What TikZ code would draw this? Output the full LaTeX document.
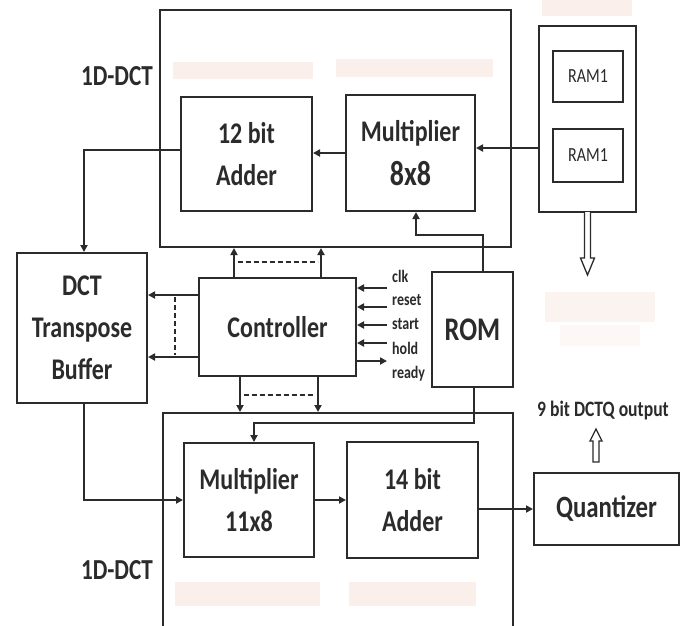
\documentclass[tikz,border=0pt]{standalone}
\usepackage{fontspec}
\setmainfont{Carlito}[FakeStretch=0.8]
\usetikzlibrary{arrows.meta,calc}
\definecolor{lc}{HTML}{2B2B2B}
\definecolor{smudge}{HTML}{F3D2C4}
\begin{document}
\begin{tikzpicture}[x=1pt,y=-1pt,
  box/.style={draw=lc, line width=2pt, fill=white, align=center, inner sep=0pt,
    text=lc, font=\bfseries\fontsize{30}{42}\selectfont},
  ram/.style={box, font=\fontsize{20}{24}\selectfont},
  lab/.style={text=lc, font=\bfseries\fontsize{29}{33}\selectfont},
  sig/.style={text=lc, anchor=west, inner sep=0pt, font=\bfseries\fontsize{17.5}{20}\selectfont},
  conn/.style={draw=lc, line width=1.8pt},
  arr/.style={conn, -{Triangle[length=7pt,width=7pt]}},
  dsh/.style={draw=lc, line width=1.6pt, dash pattern=on 5pt off 3pt},
  hollow/.style={draw=lc, line width=1.3pt, fill=white, line join=miter}]
\useasboundingbox (0,0) rectangle (688,625);
\fill[white] (0,0) rectangle (688,625);

% outer boxes
\node[box, minimum width=351pt, minimum height=237pt] (top) at (335.5,128.5) {};
\node[box, minimum width=350pt, minimum height=230pt] (bot) at (338,528) {};
\node[box, minimum width=97pt, minimum height=186pt] (ram) at (587.5,119) {};

% faint smudges
\fill[smudge, opacity=0.35] (173,62) rectangle (313,79);
\fill[smudge, opacity=0.35] (336,59) rectangle (493,77);
\fill[smudge, opacity=0.35] (542,0) rectangle (632,16);
\fill[smudge, opacity=0.25] (545,292) rectangle (655,322);
\fill[smudge, opacity=0.15] (560,325) rectangle (640,346);
\fill[smudge, opacity=0.35] (175,582) rectangle (320,606);
\fill[smudge, opacity=0.35] (349,582) rectangle (476,606);

% inner blocks
\node[box, minimum width=131pt, minimum height=114pt] (add12) at (246.5,154) {12 bit\\Adder};
\node[box, minimum width=129pt, minimum height=116pt] (mul8) at (410.5,153) {Multiplier\\[2pt]\fontsize{35}{40}\selectfont 8x8};
\node[ram, minimum width=70pt, minimum height=51pt] (ram1) at (588,76.5) {RAM1};
\node[ram, minimum width=70pt, minimum height=53pt] (ram2) at (588,155.5) {RAM1};
\node[box, minimum width=130pt, minimum height=150pt] (buf) at (82,328) {DCT\\Transpose\\Buffer};
\node[box, minimum width=157pt, minimum height=98pt] (ctrl) at (277.5,327) {Controller};
\node[box, minimum width=81pt, minimum height=115pt] (rom) at (472.5,329.5) {\fontsize{33}{36}\selectfont ROM};
\node[box, minimum width=130pt, minimum height=114pt] (mul11) at (249,500) {Multiplier\\11x8};
\node[box, minimum width=131pt, minimum height=116pt] (add14) at (412.5,500) {14 bit\\Adder};
\node[box, minimum width=145pt, minimum height=72pt] (quant) at (606.5,509) {\fontsize{31}{36}\selectfont Quantizer};

% labels
\node[lab] (l1) at (117,76) {1D-DCT};
\node[lab] (l2) at (117,570) {1D-DCT};
\node[text=lc, font=\bfseries\fontsize{22}{26}\selectfont] (outl) at (603,411) {9 bit DCTQ output};

% top data path
\draw[arr] (mul8.west) -- (mul8.west -| add12.east);
\draw[arr] (ram.west |- 0,148) -- (mul8.east |- 0,148);
\draw[arr] (add12.west |- 0,150) -| ([xshift=2pt]buf.north);
\draw[arr] ([xshift=10.5pt]rom.north) -- ++(0,-36) -| ([xshift=5.5pt]mul8.south);

% controller to top block
\draw[arr] ([xshift=-43.5pt]ctrl.north) -- ([xshift=-43.5pt]ctrl.north |- top.south);
\draw[arr] ([xshift=43.5pt]ctrl.north) -- ([xshift=43.5pt]ctrl.north |- top.south);
\draw[dsh] ([xshift=-40pt,yshift=15pt]ctrl.north) -- ([xshift=40pt,yshift=15pt]ctrl.north);

% controller to buffer
\draw[arr] ([yshift=32pt]ctrl.west) -- ([yshift=32pt]ctrl.west -| buf.east);
\draw[arr] ([yshift=-30pt]ctrl.west) -- ([yshift=-30pt]ctrl.west -| buf.east);
\draw[dsh] ([xshift=-23pt,yshift=30pt]ctrl.west) -- ([xshift=-23pt,yshift=-28pt]ctrl.west);

% controller to bottom block
\draw[arr] ([xshift=-37.5pt]ctrl.south) -- ([xshift=-37.5pt]ctrl.south |- bot.north);
\draw[arr] ([xshift=40.5pt]ctrl.south) -- ([xshift=40.5pt]ctrl.south |- bot.north);
\draw[dsh] ([xshift=-34pt,yshift=-18pt]ctrl.south) -- ([xshift=37pt,yshift=-18pt]ctrl.south);

% control signals
\coordinate (sx) at (387,0);
\draw[arr] (sx |- 0,288) -- (ctrl.east |- 0,288);
\draw[arr] (sx |- 0,307) -- (ctrl.east |- 0,307);
\draw[arr] (sx |- 0,325) -- (ctrl.east |- 0,325);
\draw[arr] (sx |- 0,343) -- (ctrl.east |- 0,343);
\draw[arr] (ctrl.east |- 0,361) -- (sx |- 0,361);
\node[sig] (sclk) at (392,276) {clk};
\node[sig] (sreset) at (392,300) {reset};
\node[sig] (sstart) at (392,324) {start};
\node[sig] (shold) at (392,348) {hold};
\node[sig] (sready) at (392,374) {ready};

% bottom data path
\draw[arr] ([xshift=1.5pt]rom.south) -- ++(0,35) -| ([xshift=5pt]mul11.north);
\draw[arr] ([xshift=2pt]buf.south) |- (mul11.west);
\draw[arr] (mul11.east) -- (add14.west);
\draw[arr] (quant.west -| add14.east) -- (quant.west);

% hollow arrows
\draw[hollow] (584.5,212) -- (584.5,258) -- (580.5,258) -- (587.5,275) -- (594.5,258) -- (590.5,258) -- (590.5,212);
\draw[hollow] (593,462) -- (593,441) -- (590,441) -- (596,429) -- (602,441) -- (599,441) -- (599,462) -- cycle;
\end{tikzpicture}
\end{document}
